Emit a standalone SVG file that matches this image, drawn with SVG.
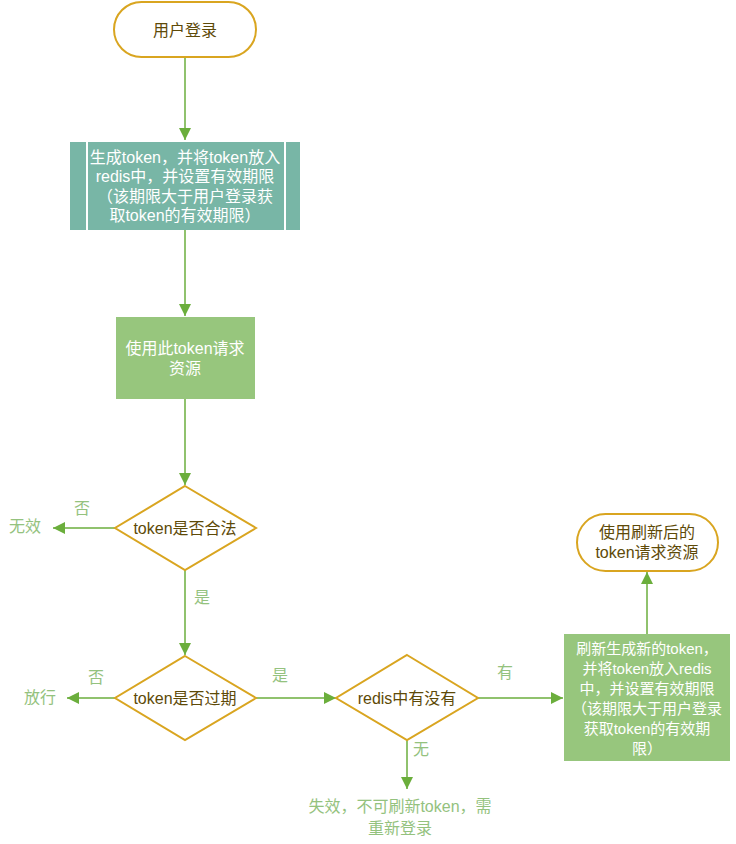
<svg xmlns="http://www.w3.org/2000/svg" width="736" height="844" viewBox="0 0 736 844">
<style>
text{font-family:"Liberation Sans","Noto Sans CJK SC",sans-serif;font-size:16px;text-anchor:middle;dominant-baseline:central}
.term{fill:#fff;stroke:#d9a520;stroke-width:2}
.dec{fill:#fff;stroke:#d9a520;stroke-width:2}
.dt{fill:#5e4a08}
.wt{fill:#fff}
.sm{font-size:15px}
.lt{fill:#94c27e}
.edge{stroke:#6bae3c;stroke-width:1.5;fill:none;marker-end:url(#ah)}
</style>
<defs>
<marker id="ah" markerUnits="userSpaceOnUse" markerWidth="14" markerHeight="14" refX="12" refY="6" orient="auto">
<path d="M0,0 L12,6 L0,12 Z" fill="#6bae3c"/>
</marker>
</defs>
<rect width="736" height="844" fill="#fff"/>
<g id="connectors">
<line class="edge" x1="185" y1="57" x2="185" y2="140"/>
<line class="edge" x1="185" y1="230" x2="185" y2="316"/>
<line class="edge" x1="185" y1="399" x2="185" y2="485"/>
<line class="edge" x1="115" y1="528" x2="53" y2="528"/>
<line class="edge" x1="185" y1="570" x2="185" y2="655"/>
<line class="edge" x1="115" y1="698" x2="67" y2="698"/>
<line class="edge" x1="256" y1="698" x2="336" y2="698"/>
<line class="edge" x1="478" y1="698" x2="563" y2="698"/>
<line class="edge" x1="407" y1="740" x2="407" y2="789"/>
<line class="edge" x1="647" y1="634" x2="647" y2="572"/>
<text class="lt" x="82" y="508">否</text>
<text class="lt" x="202" y="597">是</text>
<text class="lt" x="96" y="677">否</text>
<text class="lt" x="280" y="675">是</text>
<text class="lt" x="505" y="672">有</text>
<text class="lt" x="421" y="749">无</text>
</g>
<g id="start">
<rect class="term" x="114" y="2" width="142" height="55" rx="27.5"/>
<text class="dt" x="185" y="30">用户登录</text>
</g>
<g id="gen">
<rect x="70" y="142" width="230" height="88" fill="#78b6a6"/>
<line x1="87" y1="142" x2="87" y2="230" stroke="#fff" stroke-width="2"/>
<line x1="285" y1="142" x2="285" y2="230" stroke="#fff" stroke-width="2"/>
<text class="wt" x="185" y="157">生成token，并将token放入</text>
<text class="wt" x="185" y="176">redis中，并设置有效期限</text>
<text class="wt" x="185" y="196">（该期限大于用户登录获</text>
<text class="wt" x="185" y="215">取token的有效期限）</text>
</g>
<g id="use">
<rect x="116" y="317" width="139" height="82" fill="#97c67d"/>
<text class="wt" x="185" y="348">使用此token请求</text>
<text class="wt" x="185" y="368">资源</text>
</g>
<g id="valid">
<path class="dec" d="M185,486 L256,528 L185,570 L115,528 Z"/>
<text class="dt" x="185" y="528">token是否合法</text>
</g>
<g id="invalid">
<text class="lt" x="25" y="526">无效</text>
</g>
<g id="expired">
<path class="dec" d="M185,656 L256,698 L185,740 L115,698 Z"/>
<text class="dt" x="185" y="698">token是否过期</text>
</g>
<g id="pass">
<text class="lt" x="40" y="697">放行</text>
</g>
<g id="redis">
<path class="dec" d="M407,655 L478,698 L407,740 L336,698 Z"/>
<text class="dt" x="407" y="698">redis中有没有</text>
</g>
<g id="fail">
<text class="lt" x="400" y="806">失效，不可刷新token，需</text>
<text class="lt" x="400" y="828">重新登录</text>
</g>
<g id="refresh">
<rect x="564" y="634" width="166" height="127" fill="#97c67d"/>
<text class="wt sm" x="647" y="648">刷新生成新的token，</text>
<text class="wt sm" x="647" y="668">并将token放入redis</text>
<text class="wt sm" x="647" y="688">中，并设置有效期限</text>
<text class="wt sm" x="647" y="708">（该期限大于用户登录</text>
<text class="wt sm" x="647" y="728">获取token的有效期</text>
<text class="wt sm" x="647" y="748">限）</text>
</g>
<g id="useNew">
<rect class="term" x="577" y="514" width="141" height="57" rx="28.5"/>
<text class="dt" x="647" y="532">使用刷新后的</text>
<text class="dt" x="647" y="552">token请求资源</text>
</g>
</svg>
